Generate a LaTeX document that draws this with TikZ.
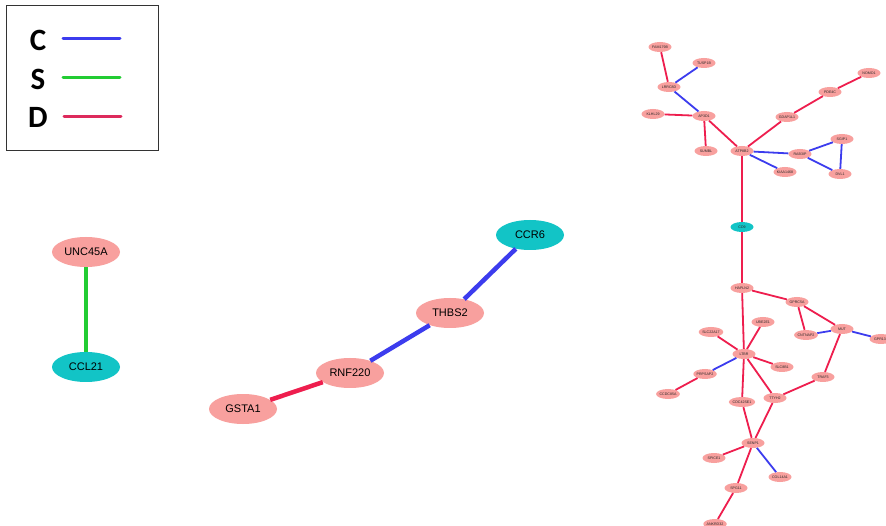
\documentclass[tikz,border=0pt]{standalone}
\usepackage{fontspec}
\setmainfont{Liberation Sans}
\newfontfamily\legendfont{Carlito}
\usetikzlibrary{shapes.geometric}

\definecolor{genepink}{HTML}{F8A09E}
\definecolor{geneteal}{HTML}{12C4C6}
\definecolor{edgeC}{HTML}{3C3CEE}
\definecolor{edgeS}{HTML}{22CC33}
\definecolor{edgeD}{HTML}{EE1E4E}
\definecolor{legendD}{HTML}{DD2A5C}

\tikzset{
  biggene/.style={ellipse, fill=genepink, draw=none, minimum width=68pt, minimum height=30pt, inner sep=0pt, font=\fontsize{11}{12}\selectfont},
  bigteal/.style={biggene, fill=geneteal},
  smallgene/.style={ellipse, fill=genepink, draw=none, minimum width=23pt, minimum height=10pt, inner sep=0pt, font=\fontsize{3.6}{4}\selectfont, text=black!85},
  smallteal/.style={smallgene, fill=geneteal},
  thickC/.style={draw=edgeC, line width=4.5pt},
  thickS/.style={draw=edgeS, line width=4.5pt},
  thickD/.style={draw=edgeD, line width=4.5pt},
  thinC/.style={draw=edgeC, line width=1.8pt},
  thinD/.style={draw=edgeD, line width=1.8pt},
}

\begin{document}
\begin{tikzpicture}[x=1pt, y=-1pt]
\useasboundingbox (0,0) rectangle (886,526);
\fill[white] (0,0) rectangle (886,526);

% legend
\draw[black!80, line width=1pt] (6,6) rectangle (158,151);
\node[font=\legendfont\bfseries\fontsize{31}{31}\selectfont] (lc) at (38,40) {C};
\node[font=\legendfont\bfseries\fontsize{31}{31}\selectfont] (ls) at (38,79) {S};
\node[font=\legendfont\bfseries\fontsize{31}{31}\selectfont] (ld) at (38,117) {D};
\coordinate (lc1) at (63,39); \coordinate (lc2) at (120,39);
\coordinate (ls1) at (63,78); \coordinate (ls2) at (120,78);
\coordinate (ld1) at (64,117); \coordinate (ld2) at (121,117);
\draw[edgeC, line width=3pt, line cap=round] (lc1) -- (lc2);
\draw[edgeS, line width=3pt, line cap=round] (ls1) -- (ls2);
\draw[legendD, line width=3pt, line cap=round] (ld1) -- (ld2);

% small components
\node[biggene] (unc) at (86,252) {UNC45A};
\node[bigteal] (ccl) at (86,367) {CCL21};
\node[bigteal] (ccr) at (530,235) {CCR6};
\node[biggene] (thbs) at (450,313) {THBS2};
\node[biggene] (rnf) at (350,373) {RNF220};
\node[biggene] (gsta) at (243,409) {GSTA1};
\draw[thickS] (unc) -- (ccl);
\draw[thickC] (ccr) -- (thbs);
\draw[thickC] (thbs) -- (rnf);
\draw[thickD] (rnf) -- (gsta);

% large component
\node[smallgene] (fam) at (660,47) {FAM179B};
\node[smallgene] (tus) at (704,63) {TUSP1B};
\node[smallgene] (lrr) at (669,87) {LRRC8D};
\node[smallgene] (klh) at (653,114) {KLHL29};
\node[smallgene] (ap3) at (704,116) {AP3D1};
\node[smallgene] (sum) at (706,151) {SUMBL};
\node[smallgene] (atp) at (742,151) {ATP8B2};
\node[smallgene] (gda) at (787,117) {GDAP1L1};
\node[smallgene] (pde) at (830,92) {PDE4C};
\node[smallgene] (nom) at (869,73) {NOMO1};
\node[smallgene] (rab) at (800,154) {RAB3IP};
\node[smallgene] (sgi) at (842,139) {SGIP1};
\node[smallgene] (dvl) at (840,174) {DVL1};
\node[smallgene] (kia) at (785,172) {KIAA1468};
\node[smallteal] (cd) at (742,227) {CD9};
\node[smallgene] (hap) at (742,288) {HAPLN2};
\node[smallgene] (gpr) at (797,302) {GPRC5A};
\node[smallgene] (cnt) at (806,335) {CNTNAP2};
\node[smallgene] (mut) at (842,329) {MUT};
\node[smallgene] (gpx) at (881,339) {GPR132};
\node[smallgene] (ube) at (763,322) {UBE2E1};
\node[smallgene] (slc) at (711,332) {SLC22A17};
\node[smallgene] (ltb) at (744,354) {LTBR};
\node[smallgene] (sl8) at (782,367) {SLC8B1};
\node[smallgene] (prp) at (705,374) {PRPSAP2};
\node[smallgene] (ccd) at (668,394) {CCDC85A};
\node[smallgene] (tra) at (823,377) {TRAF3};
\node[smallgene] (tty) at (775,398) {TTYH2};
\node[smallgene] (cdc) at (742,402) {CDC42SE1};
\node[smallgene] (sen) at (753,443) {SENP1};
\node[smallgene] (spi) at (714,458) {SPICE1};
\node[smallgene] (col) at (780,477) {COL14A1};
\node[smallgene] (spg) at (736,488) {SPG11};
\node[smallgene] (ank) at (715,524) {ANKRD32};

\draw[thinD] (fam) -- (lrr);
\draw[thinC] (tus) -- (lrr);
\draw[thinC] (lrr) -- (ap3);
\draw[thinD] (klh) -- (ap3);
\draw[thinD] (ap3) -- (sum);
\draw[thinD] (ap3) -- (atp);
\draw[thinD] (atp) -- (gda);
\draw[thinD] (gda) -- (pde);
\draw[thinD] (pde) -- (nom);
\draw[thinC] (atp) -- (rab);
\draw[thinC] (atp) -- (kia);
\draw[thinC] (rab) -- (sgi);
\draw[thinC] (rab) -- (dvl);
\draw[thinC] (sgi) -- (dvl);
\draw[thinD] (atp) -- (cd);
\draw[thinD] (cd) -- (hap);
\draw[thinD] (hap) -- (gpr);
\draw[thinD] (hap) -- (ltb);
\draw[thinD] (gpr) -- (cnt);
\draw[thinD] (gpr) -- (mut);
\draw[thinC] (cnt) -- (mut);
\draw[thinC] (mut) -- (gpx);
\draw[thinD] (mut) -- (tra);
\draw[thinD] (tra) -- (tty);
\draw[thinD] (ube) -- (ltb);
\draw[thinD] (slc) -- (ltb);
\draw[thinC] (ltb) -- (prp);
\draw[thinD] (prp) -- (ccd);
\draw[thinD] (ltb) -- (sl8);
\draw[thinD] (ltb) -- (cdc);
\draw[thinD] (ltb) -- (tty);
\draw[thinD] (cdc) -- (sen);
\draw[thinD] (tty) -- (sen);
\draw[thinD] (sen) -- (spi);
\draw[thinC] (sen) -- (col);
\draw[thinD] (sen) -- (spg);
\draw[thinD] (spg) -- (ank);
\end{tikzpicture}
\end{document}
